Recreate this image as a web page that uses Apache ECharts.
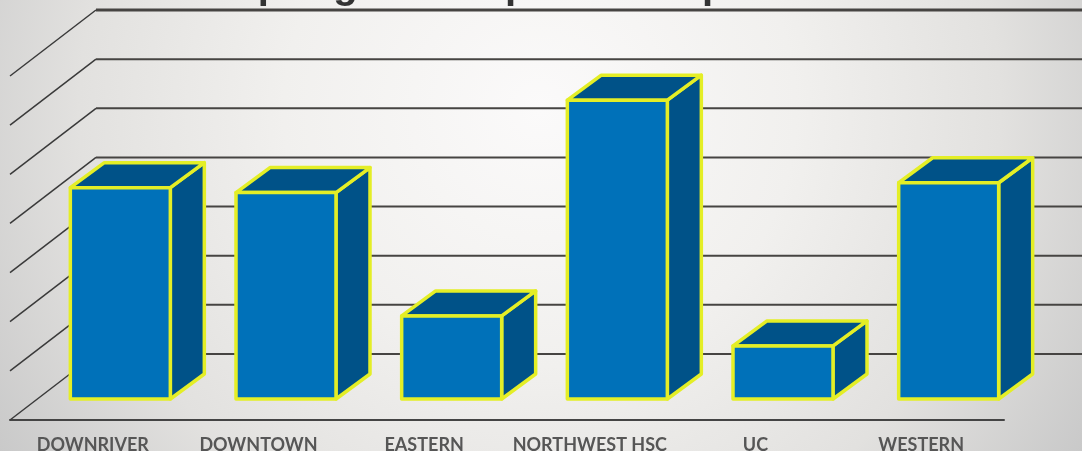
<!DOCTYPE html>
<html><head><meta charset="utf-8">
<style>html,body{margin:0;padding:0;background:#e6e5e3}#c{width:1082px;height:451px}</style>
<script src="https://cdn.jsdelivr.net/npm/echarts@6/dist/echarts.min.js"></script>
</head><body><div id="c"></div>
<script>
const categories = ['DOWNRIVER','DOWNTOWN','EASTERN','NORTHWEST HSC','UC','WESTERN'];
const values = [21.5, 21.0, 8.45, 30.4, 5.4, 22.0];
const ticks = [0,5,10,15,20,25,30,35];
const titleParts = ['Spring','p','p'];

const DX=86, DY=66;            // wall depth
const NX=27.5, NY=21;          // front of the bars, from the axis plane
const BW=100, BDX=34, BDY=25;  // bar width, bar depth
const YEL='#e4ee26', FRONT='#0071b9', DARK='#005288';
const titleFont='bold 40px "Liberation Sans"';

const chart = echarts.init(document.getElementById('c'));
chart.setOption({
  animation:false,
  backgroundColor:new echarts.graphic.RadialGradient(540,110,640,[
    {offset:0,color:'#fbfafa'},{offset:0.4,color:'#f1f0ee'},{offset:0.72,color:'#e2e1df'},{offset:1,color:'#c9c9c9'}],true),
  grid:{left:10,width:994,top:76,height:344,containLabel:false,outerBoundsMode:'none'},
  xAxis:{type:'category',data:categories,
    axisLine:{show:true,lineStyle:{color:'#444',width:2}},axisTick:{show:false},
    axisLabel:{interval:0,margin:16,color:'#565656',fontFamily:'Lato',fontWeight:'bold',fontSize:18},splitLine:{show:false}},
  yAxis:{type:'value',min:0,max:35,interval:5,axisLine:{show:false},axisTick:{show:false},axisLabel:{show:false},splitLine:{show:false}},
  graphic:[
    {type:'text',left:231,top:-33,z:1,style:{text:titleParts[0],font:titleFont,fill:'#333'}},
    {type:'text',left:505,top:-33,z:1,style:{text:titleParts[1],font:titleFont,fill:'#333'}},
    {type:'text',left:702,top:-33,z:1,style:{text:titleParts[2],font:titleFont,fill:'#333'}}
  ],
  series:[
    {type:'custom',coordinateSystem:'cartesian2d',clip:false,z:2,silent:true,
     data:ticks.map(t=>[0,t]),
     renderItem(p,api){
       const v=api.value(1), y=api.coord([0,v])[1];
       const x0=10;
       return {type:'group',children:[
         {type:'line',shape:{x1:x0,y1:y,x2:x0+DX,y2:y-DY},style:{stroke:'#3a3a3a',lineWidth:1.5}},
         {type:'line',shape:{x1:x0+DX,y1:y-DY,x2:1082,y2:y-DY},style:{stroke:'#464442',lineWidth:v===35?3:2}}
       ]};
     },
     encode:{x:0,y:1}},
    {type:'custom',coordinateSystem:'cartesian2d',clip:false,z:5,silent:true,
     data:values.map((v,i)=>[categories[i],v]),
     renderItem(p,api){
       const idx=api.value(0);
       const top=api.coord([idx,api.value(1)]);
       const base=api.coord([idx,0]);
       const l=top[0]+NX-BW/2, r=l+BW, yt=top[1]-NY, yb=base[1]-NY;
       const st=(f)=>({fill:f,stroke:YEL,lineWidth:3.5,lineJoin:'round'});
       return {type:'group',children:[
         {type:'polygon',shape:{points:[[r,yt],[r+BDX,yt-BDY],[r+BDX,yb-BDY],[r,yb]]},style:st(DARK)},
         {type:'polygon',shape:{points:[[l,yt],[l+BDX,yt-BDY],[r+BDX,yt-BDY],[r,yt]]},style:st(DARK)},
         {type:'rect',shape:{x:l,y:yt,width:BW,height:yb-yt},style:st(FRONT)}
       ]};
     },
     encode:{x:0,y:1}}
  ]
});
</script></body></html>
